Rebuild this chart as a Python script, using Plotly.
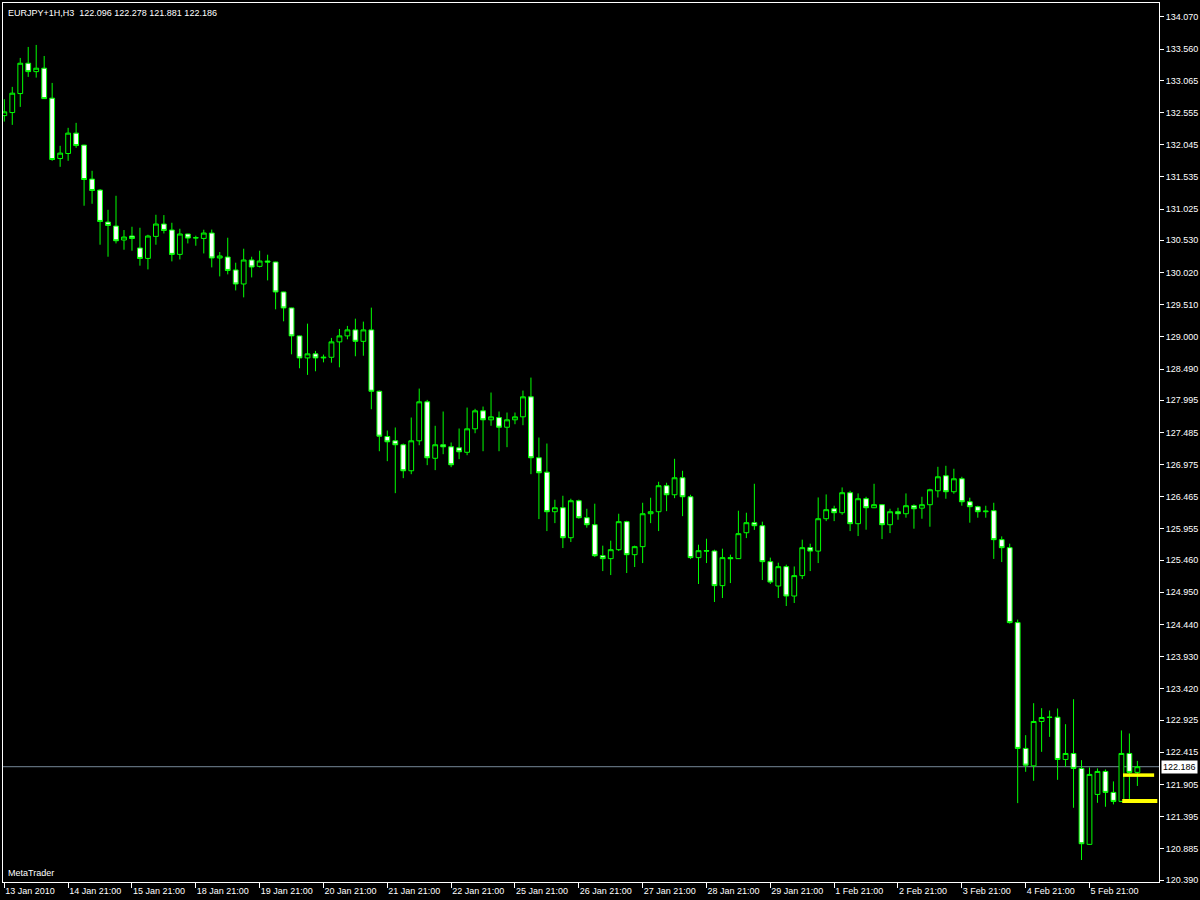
import plotly.graph_objects as go

# EURJPY H3 candles (oldest first)
OPEN = [132.507, 132.555, 132.856, 133.337, 133.204, 133.258, 132.783, 131.826, 131.906, 132.229,
        132.039, 131.500, 131.326, 130.819, 130.756, 130.535, 130.598, 130.408, 130.243, 130.592,
        130.788, 130.693, 130.307, 130.630, 130.566, 130.560, 130.645, 130.250, 130.265, 130.060,
        129.838, 130.218, 130.117, 130.202, 130.186, 129.711, 129.458, 129.015, 128.666, 128.730,
        128.666, 128.676, 128.920, 129.015, 129.110, 128.929, 129.110, 128.137, 127.420, 127.352,
        127.289, 126.877, 127.352, 127.970, 127.075, 127.289, 127.257, 127.241, 127.170, 127.542,
        127.827, 127.685, 127.720, 127.567, 127.685, 127.732, 128.049, 127.083, 126.855, 126.228,
        126.291, 125.816, 126.402, 126.133, 126.022, 125.531, 125.484, 125.626, 126.070, 125.547,
        125.674, 126.196, 126.228, 126.640, 126.497, 126.766, 126.465, 125.500, 125.610, 125.605,
        125.056, 125.500, 125.484, 125.895, 126.054, 126.006, 125.436, 125.050, 125.357, 124.892,
        125.215, 125.658, 125.604, 126.117, 126.275, 126.212, 126.529, 126.038, 126.434, 126.291,
        126.339, 126.022, 126.228, 126.196, 126.323, 126.285, 126.339, 126.560, 126.798, 126.545,
        126.750, 126.386, 126.307, 126.228, 126.244, 125.785, 125.658, 124.470, 122.476, 122.200,
        122.903, 122.966, 122.971, 122.301, 122.396, 122.159, 120.955, 121.747, 122.111, 121.779,
        121.636, 122.396, 122.096]
HIGH = [132.767, 132.962, 133.421, 133.595, 133.627, 133.452, 133.025, 132.028, 132.313, 132.392,
        132.045, 131.632, 131.342, 131.014, 131.236, 130.693, 130.745, 130.729, 130.618, 130.935,
        130.930, 130.808, 130.713, 130.632, 130.603, 130.698, 130.700, 130.345, 130.571, 130.175,
        130.397, 130.270, 130.365, 130.302, 130.190, 129.715, 129.462, 129.020, 129.209, 128.777,
        128.719, 128.983, 129.125, 129.173, 129.288, 129.241, 129.463, 128.148, 127.515, 127.563,
        127.309, 127.721, 128.180, 128.001, 127.590, 127.816, 127.325, 127.547, 127.879, 127.859,
        127.895, 128.117, 127.816, 127.800, 127.800, 128.148, 128.354, 127.404, 127.309, 126.418,
        126.481, 126.434, 126.420, 126.275, 126.355, 125.690, 125.769, 126.196, 126.085, 125.690,
        126.370, 126.450, 126.703, 126.687, 127.067, 126.877, 126.497, 125.705, 125.800, 125.626,
        125.642, 125.547, 126.244, 126.212, 126.671, 126.070, 125.500, 125.420, 125.389, 125.360,
        125.785, 125.721, 126.454, 126.502, 126.323, 126.613, 126.560, 126.518, 126.465, 126.671,
        126.345, 126.275, 126.291, 126.518, 126.345, 126.465, 126.592, 126.940, 126.956, 126.909,
        126.782, 126.450, 126.323, 126.323, 126.370, 125.837, 125.721, 124.518, 122.686, 123.193,
        123.114, 123.077, 123.109, 122.860, 123.256, 122.290, 122.175, 122.159, 122.143, 121.953,
        122.761, 122.713, 122.278]
LOW = [132.412, 132.360, 132.645, 133.120, 133.109, 132.770, 131.790, 131.695, 131.790, 131.996,
       131.078, 131.109, 130.460, 130.270, 130.481, 130.381, 130.365, 130.128, 130.069, 130.460,
       130.639, 130.196, 130.227, 130.481, 130.444, 130.322, 130.101, 129.958, 129.990, 129.736,
       129.626, 129.942, 130.101, 129.895, 129.436, 129.246, 128.723, 128.502, 128.397, 128.454,
       128.596, 128.590, 128.517, 128.961, 128.692, 128.700, 127.852, 127.187, 127.029, 126.522,
       126.760, 126.823, 127.282, 126.966, 126.887, 127.140, 126.934, 127.061, 127.124, 127.472,
       127.187, 127.590, 127.187, 127.251, 127.615, 127.599, 126.823, 126.111, 125.921, 126.047,
       125.652, 125.747, 126.117, 125.975, 125.509, 125.287, 125.224, 125.604, 125.256, 125.351,
       125.414, 126.047, 125.921, 126.237, 126.443, 126.158, 125.477, 125.082, 125.414, 124.797,
       124.860, 125.097, 125.480, 125.810, 125.940, 125.145, 125.082, 124.860, 124.733, 124.781,
       125.161, 125.287, 125.414, 126.079, 126.079, 126.180, 125.921, 125.842, 125.943, 126.285,
       125.794, 125.889, 126.101, 126.133, 125.959, 126.117, 125.990, 126.454, 126.434, 126.513,
       126.323, 126.054, 126.133, 126.133, 125.480, 125.430, 124.455, 121.609, 122.105, 121.963,
       122.422, 122.659, 121.978, 122.184, 121.535, 120.707, 120.950, 121.614, 121.551, 121.589,
       121.630, 121.630, 121.881]
CLOSE = [132.566, 132.862, 133.337, 133.204, 133.258, 132.776, 131.811, 131.912, 132.229, 132.032,
         131.494, 131.320, 130.829, 130.766, 130.523, 130.582, 130.560, 130.243, 130.598, 130.788,
         130.687, 130.307, 130.630, 130.566, 130.572, 130.645, 130.250, 130.282, 130.053, 129.838,
         130.218, 130.107, 130.202, 130.186, 129.711, 129.458, 129.015, 128.666, 128.730, 128.666,
         128.676, 128.920, 129.015, 129.110, 128.929, 129.110, 128.137, 127.425, 127.336, 127.289,
         126.877, 127.352, 127.970, 127.083, 127.289, 127.257, 126.972, 127.178, 127.542, 127.827,
         127.685, 127.732, 127.567, 127.685, 127.732, 128.049, 127.083, 126.845, 126.228, 126.291,
         125.816, 126.402, 126.133, 126.022, 125.531, 125.484, 125.626, 126.070, 125.547, 125.674,
         126.196, 126.228, 126.640, 126.497, 126.766, 126.465, 125.500, 125.610, 125.605, 125.056,
         125.500, 125.484, 125.880, 126.054, 126.006, 125.436, 125.113, 125.357, 124.892, 125.215,
         125.658, 125.604, 126.117, 126.260, 126.212, 126.529, 126.038, 126.434, 126.291, 126.339,
         126.022, 126.228, 126.196, 126.323, 126.275, 126.339, 126.576, 126.782, 126.545, 126.750,
         126.386, 126.307, 126.228, 126.237, 125.785, 125.658, 124.470, 122.476, 122.211, 122.903,
         122.966, 122.971, 122.301, 122.396, 122.159, 120.965, 122.064, 122.111, 121.779, 121.636,
         122.396, 122.096, 122.186]

DATE_LABELS = ['13 Jan 2010', '14 Jan 21:00', '15 Jan 21:00', '18 Jan 21:00', '19 Jan 21:00',
               '20 Jan 21:00', '21 Jan 21:00', '22 Jan 21:00', '25 Jan 21:00', '26 Jan 21:00',
               '27 Jan 21:00', '28 Jan 21:00', '29 Jan 21:00', '1 Feb 21:00', '2 Feb 21:00',
               '3 Feb 21:00', '4 Feb 21:00', '5 Feb 21:00']
PRICE_LABELS = ['134.070', '133.560', '133.065', '132.555', '132.045', '131.535', '131.025',
                '130.530', '130.020', '129.510', '129.000', '128.490', '127.995', '127.485',
                '126.975', '126.465', '125.955', '125.460', '124.950', '124.440', '123.930',
                '123.420', '122.925', '122.415', '121.905', '121.395', '120.885', '120.390']
LEVELS = [122.053, 121.641]
SYMBOL = 'EURJPY+1H,H3'

FONT = 'Liberation Sans'
x = list(range(len(OPEN)))

fig = go.Figure()
fig.add_trace(go.Candlestick(
    x=x, open=OPEN, high=HIGH, low=LOW, close=CLOSE,
    increasing=dict(line=dict(color='#00ff00', width=1), fillcolor='#000000'),
    decreasing=dict(line=dict(color='#00ff00', width=1), fillcolor='#ffffff'),
    whiskerwidth=0, showlegend=False, hoverinfo='x+y'))

# yellow levels at the right edge
level_spans = [(140.2, 144.1, 3.5), (140.1, 144.5, 4)]
for lvl, (x0, x1, w) in zip(LEVELS, level_spans):
    fig.add_trace(go.Scatter(x=[x0, x1], y=[lvl, lvl], mode='lines',
                             line=dict(color='#ffff00', width=w),
                             showlegend=False, hoverinfo='skip'))

last = CLOSE[-1]
fig.add_shape(type='line', xref='paper', x0=0, x1=1, y0=last, y1=last,
              line=dict(color='#778899', width=1), layer='below')

header = f"{SYMBOL}\u00a0\u00a0{OPEN[-1]:.3f} {HIGH[-1]:.3f} {LOW[-1]:.3f} {CLOSE[-1]:.3f}"
fig.add_annotation(text=header, xref='paper', yref='paper', x=0, y=1,
                   xanchor='left', yanchor='top', xshift=3, yshift=-3,
                   showarrow=False, font=dict(family=FONT, size=9, color='white'))
fig.add_annotation(text='MetaTrader', xref='paper', yref='paper', x=0, y=0,
                   xanchor='left', yanchor='bottom', xshift=3, yshift=2,
                   showarrow=False, font=dict(family=FONT, size=9, color='white'))
fig.add_annotation(text=f'{last:.3f}', xref='paper', yref='y', x=1, y=last,
                   xanchor='left', yanchor='middle', xshift=2, showarrow=False,
                   bgcolor='white', borderpad=1,
                   font=dict(family=FONT, size=9, color='black'))

fig.update_layout(
    width=1200, height=900,
    margin=dict(l=2, r=39, t=2, b=18),
    paper_bgcolor='black', plot_bgcolor='black',
    boxgap=0.4, boxgroupgap=0,
    font=dict(family=FONT, size=9, color='white'),
    xaxis=dict(range=[-0.1625, 144.71], tickvals=list(range(0, 137, 8)), ticktext=DATE_LABELS,
               ticks='outside', ticklen=5, tickcolor='white', ticklabelposition='outside right',
               showline=True, linecolor='white', linewidth=1, mirror=True,
               showgrid=False, zeroline=False, rangeslider=dict(visible=False),
               tickfont=dict(family=FONT, size=9, color='white')),
    yaxis=dict(range=[120.3586, 134.2917], side='right',
               tickvals=[float(p) for p in PRICE_LABELS], ticktext=PRICE_LABELS,
               ticks='outside', ticklen=4, tickcolor='white',
               showline=True, linecolor='white', linewidth=1, mirror=True,
               showgrid=False, zeroline=False,
               tickfont=dict(family=FONT, size=9, color='white')),
)

# page body has a default 8px margin; drop it so the figure sits at the window corner
fig.write_html("out.html", config={'displayModeBar': False},
               post_script="document.body.style.margin='0';document.body.style.background='black';")
